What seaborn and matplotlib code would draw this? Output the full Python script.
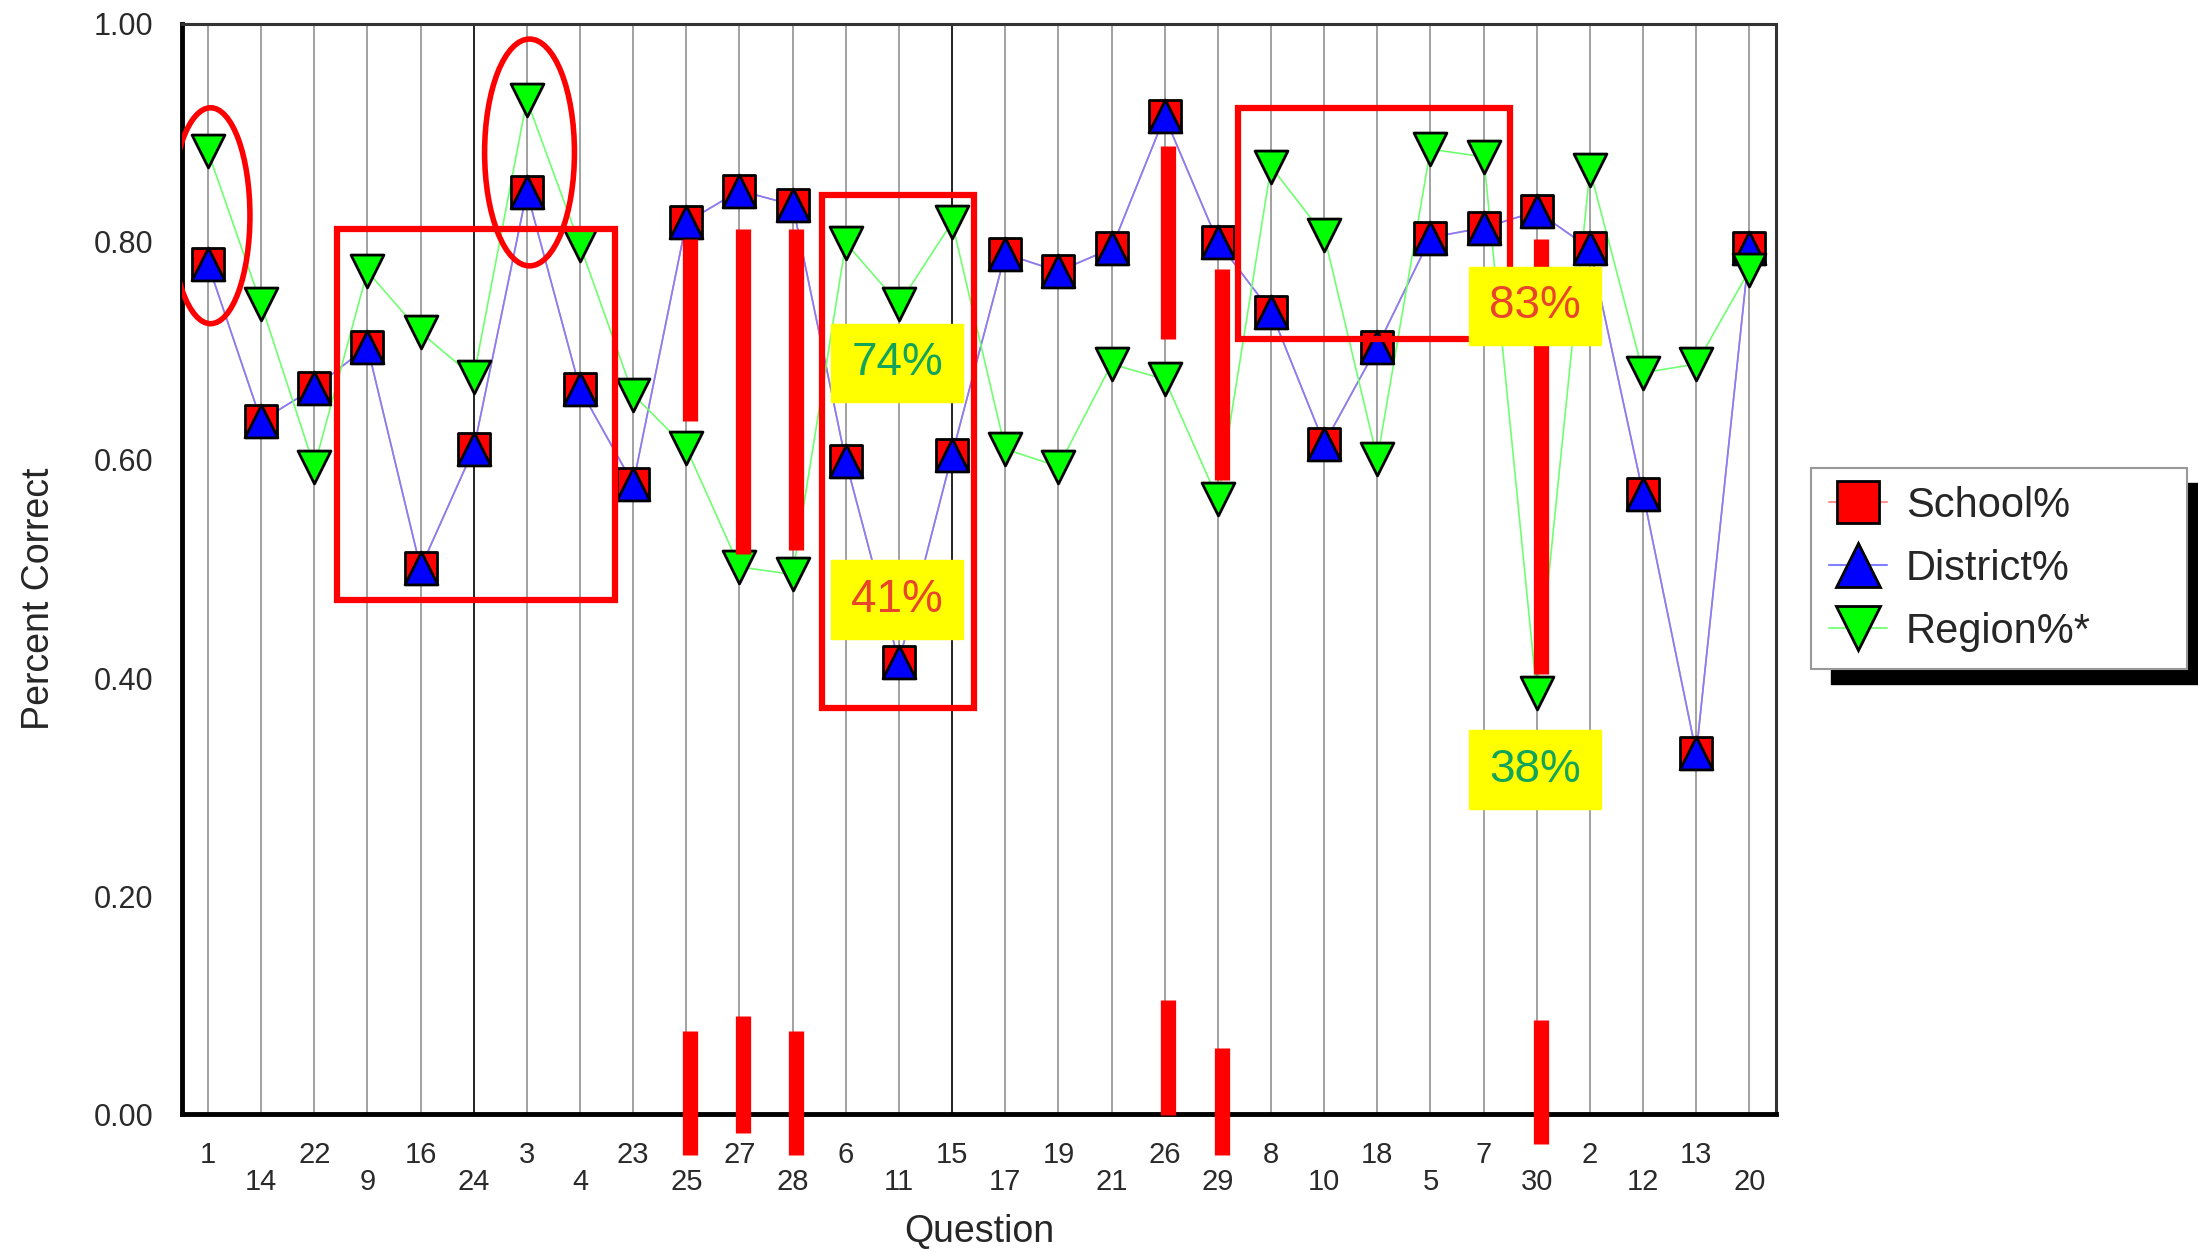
import numpy as np
import matplotlib
matplotlib.use('Agg')
import matplotlib.pyplot as plt
import seaborn as sns
from matplotlib.patches import Rectangle, Ellipse
from matplotlib.lines import Line2D

questions = ['1', '14', '22', '9', '16', '24', '3', '4', '23', '25', '27', '28', '6', '11', '15',
             '17', '19', '21', '26', '29', '8', '10', '18', '5', '7', '30', '2', '12', '13', '20']
school = [0.780, 0.636, 0.666, 0.704, 0.501, 0.610, 0.846, 0.665, 0.578, 0.818, 0.847, 0.834, 0.599, 0.415, 0.605,
          0.789, 0.773, 0.794, 0.915, 0.800, 0.736, 0.615, 0.704, 0.804, 0.813, 0.828, 0.794, 0.569, 0.331, 0.794]
district = [0.780, 0.636, 0.666, 0.704, 0.501, 0.610, 0.846, 0.665, 0.578, 0.818, 0.847, 0.834, 0.599, 0.415, 0.605,
            0.789, 0.773, 0.794, 0.915, 0.800, 0.736, 0.615, 0.704, 0.804, 0.813, 0.828, 0.794, 0.569, 0.331, 0.794]
region = [0.883, 0.743, 0.594, 0.773, 0.717, 0.676, 0.930, 0.797, 0.660, 0.611, 0.502, 0.495, 0.799, 0.743, 0.818,
          0.610, 0.594, 0.688, 0.674, 0.564, 0.869, 0.806, 0.601, 0.885, 0.878, 0.386, 0.866, 0.680, 0.688, 0.774]

# highlighted gaps (question, top, bottom) and little marks under the axis
gap_bars = [('25', 0.803, 0.636), ('27', 0.812, 0.514), ('28', 0.812, 0.517),
            ('26', 0.888, 0.711), ('29', 0.775, 0.582), ('30', 0.803, 0.404)]
foot_bars = [('25', 0.076, -0.037), ('27', 0.090, -0.017), ('28', 0.076, -0.037),
             ('26', 0.105, -0.001), ('29', 0.061, -0.037), ('30', 0.086, -0.027)]
callouts = [('74%', '11', 0.689, '#12a45a'), ('41%', '11', 0.472, '#e8452c'),
            ('83%', '30', 0.741, '#e8452c'), ('38%', '30', 0.316, '#12a45a')]

sns.set_style('white')
plt.rcParams['font.family'] = ['Liberation Sans', 'DejaVu Sans']

fig = plt.figure(figsize=(21.98, 12.52), dpi=100)
ax = fig.add_axes([0.083, 0.110, 0.725, 0.871])

x = np.arange(len(questions))
pos = {q: i for i, q in enumerate(questions)}

# vertical grid
for i in x:
    dark = i in (5, 14)
    ax.axvline(i, color='#111111' if dark else '#9a9a9a', lw=1.3, zorder=0)

sns.lineplot(x=x, y=school, color='#ff8080', lw=1.2, ax=ax, zorder=2)
sns.lineplot(x=x, y=district, color='#7f7fff', lw=1.2, ax=ax, zorder=2)
sns.lineplot(x=x, y=region, color='#70ff70', lw=1.2, ax=ax, zorder=2)
sns.scatterplot(x=x, y=school, marker='s', s=560, color='#ff0000', edgecolor='black', linewidth=2, ax=ax, zorder=3)
sns.scatterplot(x=x, y=district, marker='^', s=560, color='#0000ff', edgecolor='black', linewidth=2, ax=ax, zorder=4)
sns.scatterplot(x=x, y=region, marker='v', s=560, color='#00ff00', edgecolor='black', linewidth=2, ax=ax, zorder=4)

# annotations
ax.add_patch(Ellipse((0.05, 0.824), 1.48, 0.198, fill=False, ec='#ff0000', lw=4, zorder=6))
ax.add_patch(Ellipse((6.05, 0.882), 1.69, 0.208, fill=False, ec='#ff0000', lw=4, zorder=6))
for x0, x1, y0, y1 in [(2.43, 7.65, 0.472, 0.812), (11.56, 14.41, 0.373, 0.843), (19.37, 24.49, 0.711, 0.923)]:
    ax.add_patch(Rectangle((x0, y0), x1 - x0, y1 - y0, fill=False, ec='#ff0000', lw=4.5, zorder=6))
for q, top, bot in gap_bars:
    ax.plot([pos[q] + 0.07, pos[q] + 0.07], [bot, top], color='#ff0000', lw=11, solid_capstyle='butt', zorder=5)
for q, top, bot in foot_bars:
    ax.plot([pos[q] + 0.07, pos[q] + 0.07], [bot, top], color='#ff0000', lw=11, solid_capstyle='butt',
            zorder=5, clip_on=False)
for txt, q, yc, col in callouts:
    xc = pos[q] - 0.03
    ax.add_patch(Rectangle((xc - 1.24, yc - 0.036), 2.48, 0.072, color='#ffff00', zorder=7))
    ax.text(xc, yc, txt, color=col, fontsize=33, ha='center', va='center', zorder=8)

ax.set_xlim(-0.48, 29.5)
ax.set_ylim(0, 1)
ax.set_yticks(np.arange(0, 1.01, 0.2))
ax.set_yticklabels([f'{v:.2f}' for v in np.arange(0, 1.01, 0.2)])
ax.set_xticks(x)
ax.set_xticklabels([q if i % 2 == 0 else '\n' + q for i, q in enumerate(questions)], linespacing=0.95)
ax.tick_params(axis='y', direction='inout', length=26, width=2.5, labelsize=22, labelcolor='#2a2a2a', pad=8)
ax.tick_params(axis='x', length=0, labelsize=21, labelcolor='#2a2a2a', pad=19)
ax.set_xlabel('Question', fontsize=27, labelpad=13)
ax.set_ylabel('Percent Correct', fontsize=27)
ax.yaxis.set_label_coords(-0.079, 0.473)
for side in ['left', 'bottom']:
    ax.spines[side].set_linewidth(3.5)
    ax.spines[side].set_color('black')
for side in ['top', 'right']:
    ax.spines[side].set_linewidth(2.2)
    ax.spines[side].set_color('#333333')

handles = [
    Line2D([], [], color='#ff9090', lw=1.5, marker='s', markersize=30, markerfacecolor='#ff0000', markeredgecolor='black', markeredgewidth=2),
    Line2D([], [], color='#8080ff', lw=1.5, marker='^', markersize=32, markerfacecolor='#0000ff', markeredgecolor='black', markeredgewidth=2),
    Line2D([], [], color='#80ff80', lw=1.5, marker='v', markersize=32, markerfacecolor='#00ff00', markeredgecolor='black', markeredgewidth=2),
]
leg = fig.legend(handles, ['School%', 'District%', 'Region%*'], loc='upper left',
                 bbox_to_anchor=(0.824, 0.466, 0.171, 0.160), mode='expand', borderaxespad=0,
                 fontsize=30, frameon=True, fancybox=False, framealpha=1, edgecolor='#999999',
                 handlelength=1.4, handletextpad=0.45, labelspacing=0.55, borderpad=0.42)
leg.get_frame().set_linewidth(1.5)

fig.canvas.draw()
bb = leg.get_window_extent().transformed(fig.transFigure.inverted())
fig.patches.append(Rectangle((bb.x0 + 0.009, bb.y0 - 0.012), bb.width, bb.height, transform=fig.transFigure,
                             color='black', zorder=2, figure=fig))

fig.savefig('out.png', dpi=100)
